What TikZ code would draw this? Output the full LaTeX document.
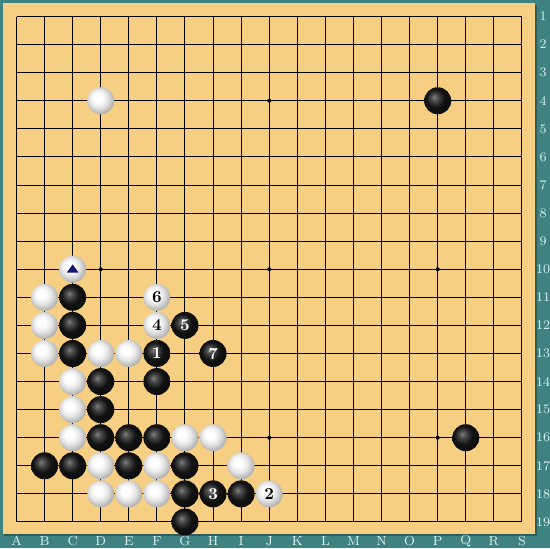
\documentclass[tikz,border=0pt]{standalone}
\definecolor{boardwood}{HTML}{F7CF82}
\definecolor{frameteal}{HTML}{3E8381}
\definecolor{frameshade}{HTML}{2B5F5D}
\definecolor{labelpale}{HTML}{DDF2F0}
\definecolor{marknavy}{HTML}{14146E}
\pgfdeclareradialshading{wshade}{\pgfpoint{-7bp}{7bp}}{color(0bp)=(white); color(8bp)=(white);
  color(17bp)=(black!10); color(26bp)=(black!28); color(34bp)=(black!40); color(50bp)=(black!45)}
\pgfdeclareradialshading{bshade}{\pgfpoint{-7bp}{7bp}}{color(0bp)=(black!50); color(7bp)=(black!72);
  color(17bp)=(black!93); color(50bp)=(black)}
\tikzset{
  stone/.style={circle,inner sep=0pt,minimum size=0.54cm,font=\bfseries\fontsize{9.5}{9.5}\selectfont},
  bstone/.style={stone,shading=bshade,text=white},
  wstone/.style={stone,shading=wshade,text=black},
  hoshi/.style={circle,fill=black,inner sep=0pt,minimum size=0.08cm},
  coordlbl/.style={text=labelpale,inner sep=0pt,font=\fontsize{7.5}{7.5}\selectfont}
}

\begin{document}
\begin{tikzpicture}
\useasboundingbox (0,0) rectangle (11,-10.96);
\fill[frameteal] (0,0) rectangle (11,-10.96);
\fill[frameshade] (0.09,-0.09) rectangle (10.74,-10.72);
\fill[boardwood] (0.06,-0.06) rectangle (10.70,-10.68);
\begin{scope}[shift={(0.33cm,-0.33cm)},x=0.5616cm,y=-0.5616cm]
  \foreach \i in {0,...,18}{
    \draw[line width=.55pt] (\i,0)--(\i,18);
    \draw[line width=.55pt] (0,\i)--(18,\i);
  }
  \foreach \c/\r in {3/3,9/3,15/3,3/9,9/9,15/9,3/15,9/15,15/15}
    \node[hoshi] (hoshi-\c-\r) at (\c,\r) {};
  \foreach \l [count=\k from 0] in {A,B,C,D,E,F,G,H,I,J,K,L,M,N,O,P,Q,R,S}
    \node[coordlbl] (col-\l) at (\k,18.68) {\l};
  \foreach \k in {1,...,19}
    \node[coordlbl] (row-\k) at (18.75,\k-1) {\k};
  % black
  \foreach \c/\r/\n/\t in {15/3/P4/{},2/10/C11/{},2/11/C12/{},2/12/C13/{},5/12/F13/1,
      7/12/H13/7,6/11/G12/5,3/13/D14/{},5/13/F14/{},3/14/D15/{},3/15/D16/{},4/15/E16/{},
      5/15/F16/{},16/15/Q16/{},1/16/B17/{},2/16/C17/{},4/16/E17/{},6/16/G17/{},6/17/G18/{},
      7/17/H18/3,8/17/I18/{},6/18/G19/{}}
    \node[bstone] (\n) at (\c,\r) {\t};
  % white
  \foreach \c/\r/\n/\t in {3/3/D4/{},2/9/C10/{},1/10/B11/{},5/10/F11/6,1/11/B12/{},
      5/11/F12/4,1/12/B13/{},3/12/D13/{},4/12/E13/{},2/13/C14/{},2/14/C15/{},2/15/C16/{},
      6/15/G16/{},7/15/H16/{},3/16/D17/{},5/16/F17/{},8/16/I17/{},3/17/D18/{},4/17/E18/{},
      5/17/F18/{},9/17/J18/2}
    \node[wstone] (\n) at (\c,\r) {\t};
  \fill[marknavy] ([shift={(-0.21,0.12)}]C10.center) -- ([shift={(0.21,0.12)}]C10.center)
    -- ([shift={(0,-0.17)}]C10.center) -- cycle;
\end{scope}
\end{tikzpicture}
\end{document}
